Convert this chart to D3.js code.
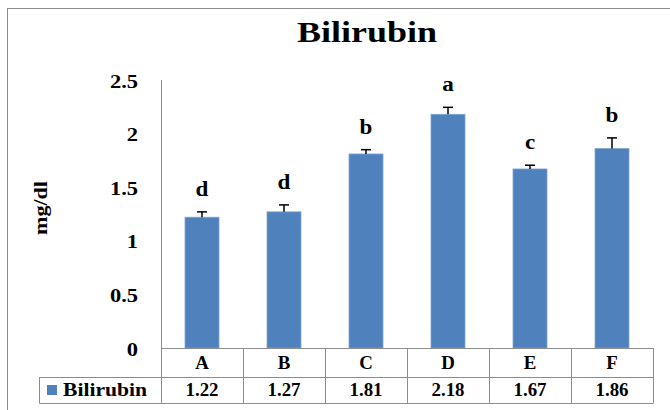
<!DOCTYPE html>
<html>
<head>
<meta charset="utf-8">
<script src="https://cdn.jsdelivr.net/npm/d3@7"></script>
<style>
  html, body { margin: 0; padding: 0; background: #fff; }
  svg { display: block; }
</style>
</head>
<body>
<svg id="chart" width="670" height="410"></svg>
<script>
// Serum bilirubin (mg/dl) per group, with standard errors and significance letters
const categories = ["A", "B", "C", "D", "E", "F"];
const values = [1.22, 1.27, 1.81, 2.18, 1.67, 1.86];
const errors = [0.05, 0.065, 0.04, 0.065, 0.035, 0.1];
const letters = ["d", "d", "b", "a", "c", "b"];
const yTicks = [0, 0.5, 1, 1.5, 2, 2.5];
const seriesName = "Bilirubin";

const FONT = "'Liberation Serif'";
const svg = d3.select("#chart");
const barColor = "#4F81BD";
const lineColor = "#8c8c8c";

// chart frame
svg.append("rect")
  .attr("x", 7.5).attr("y", 8.5)
  .attr("width", 700).attr("height", 450)
  .attr("fill", "none").attr("stroke", lineColor).attr("stroke-width", 1);

const plot = { left: 161, right: 653, top: 80, bottom: 348 };

const x = d3.scaleBand().domain(categories)
  .range([plot.left, plot.right]).paddingInner(0).paddingOuter(0);
const y = d3.scaleLinear().domain([0, 2.5]).range([plot.bottom, plot.top]);
const barW = 34;

// horizontally widened serif text helper
function label(g, tx, ty, str, size, anchor, sx) {
  return g.append("text")
    .attr("transform", `translate(${tx},${ty}) scale(${sx || 1},1)`)
    .attr("text-anchor", anchor || "middle")
    .style("font-family", FONT)
    .style("font-weight", "bold")
    .style("font-size", size + "px")
    .attr("fill", "#000")
    .text(str);
}

// title
label(svg, 367, 42, "Bilirubin", 30, "middle", 1.2);

// y axis labels
const yAxis = d3.axisLeft(y).tickValues(yTicks).tickSize(0).tickPadding(0)
  .tickFormat(d3.format("~g"));
const yg = svg.append("g").attr("transform", `translate(${plot.left},0)`).call(yAxis);
yg.select(".domain").remove();
yg.selectAll(".tick text").remove();
yg.selectAll(".tick").each(function (d) {
  label(d3.select(this), -23, 7, d3.format("~g")(d), 18, "end", 1.25);
});

// vertical axis line
svg.append("line")
  .attr("x1", plot.left + 0.5).attr("x2", plot.left + 0.5)
  .attr("y1", plot.top).attr("y2", plot.bottom)
  .attr("stroke", lineColor);

// y axis title
svg.append("text")
  .attr("transform", "translate(47,208) rotate(-90) scale(1.3,1.15)")
  .attr("text-anchor", "middle")
  .style("font-family", FONT)
  .style("font-weight", "bold")
  .style("font-size", "17px")
  .attr("fill", "#000")
  .text("mg/dl");

// bars
svg.append("g").selectAll("rect").data(values).join("rect")
  .attr("x", (d, i) => x(categories[i]) + x.bandwidth() / 2 - barW / 2)
  .attr("y", d => y(d))
  .attr("width", barW)
  .attr("height", d => y(0) - y(d))
  .attr("fill", barColor)
  .attr("stroke", "#7ea3d0").attr("stroke-width", 0.8);

// error bars (upper)
const eg = svg.append("g").attr("stroke", "#000").attr("stroke-width", 1.5);
values.forEach((v, i) => {
  const cx = x(categories[i]) + x.bandwidth() / 2;
  eg.append("line").attr("x1", cx).attr("x2", cx)
    .attr("y1", y(v)).attr("y2", y(v + errors[i]));
  eg.append("line").attr("x1", cx - 5).attr("x2", cx + 5)
    .attr("y1", y(v + errors[i])).attr("y2", y(v + errors[i]));
});

// significance letters
values.forEach((v, i) => {
  const cx = x(categories[i]) + x.bandwidth() / 2;
  label(svg, cx, y(v + errors[i]) - 16, letters[i], 22, "middle", 1.05);
});

// data table under the axis
const rowTop = plot.bottom, rowMid = 377, rowBot = 403, legLeft = 39.5;
const tg = svg.append("g").attr("stroke", lineColor).attr("stroke-width", 1).attr("fill", "none");
tg.append("line").attr("x1", plot.left).attr("x2", plot.right).attr("y1", rowTop + 0.5).attr("y2", rowTop + 0.5);
tg.append("line").attr("x1", legLeft).attr("x2", plot.right).attr("y1", rowMid + 0.5).attr("y2", rowMid + 0.5);
tg.append("line").attr("x1", legLeft).attr("x2", plot.right).attr("y1", rowBot + 0.5).attr("y2", rowBot + 0.5);
tg.append("line").attr("x1", legLeft).attr("x2", legLeft).attr("y1", rowMid).attr("y2", rowBot + 0.5);
tg.append("line").attr("x1", plot.left + 0.5).attr("x2", plot.left + 0.5).attr("y1", rowTop).attr("y2", rowBot + 0.5);
categories.forEach(c => {
  const xr = Math.round(x(c) + x.bandwidth()) + 0.5;
  tg.append("line").attr("x1", xr).attr("x2", xr).attr("y1", rowTop).attr("y2", rowBot + 0.5);
});

categories.forEach((c, i) => {
  const cx = x(c) + x.bandwidth() / 2;
  label(svg, cx, 369, c, 18, "middle", 1.05);
  label(svg, cx, 396, values[i].toFixed(2), 18, "middle", 1.05);
});

// legend key in the table
svg.append("rect").attr("x", 47).attr("y", 385).attr("width", 10).attr("height", 10).attr("fill", barColor);
label(svg, 63, 396, seriesName, 18, "start", 1.2);
</script>
</body>
</html>
